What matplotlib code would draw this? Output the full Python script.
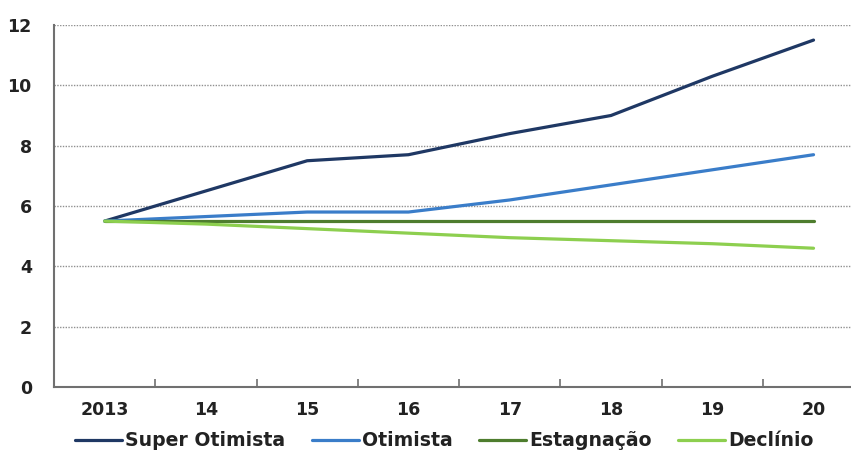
import matplotlib.pyplot as plt
import numpy as np

years = ["2013", "14", "15", "16", "17", "18", "19", "20"]

super_otimista = [5.5, 6.5, 7.5, 7.7, 8.4, 9.0, 10.3, 11.5]
otimista = [5.5, 5.65, 5.8, 5.8, 6.2, 6.7, 7.2, 7.7]
estagnacao = [5.5, 5.5, 5.5, 5.5, 5.5, 5.5, 5.5, 5.5]
declinio = [5.5, 5.4, 5.25, 5.1, 4.95, 4.85, 4.75, 4.6]

series = [
    ("Super Otimista", super_otimista, "#1f3864"),
    ("Otimista", otimista, "#3a7dc9"),
    ("Estagnação", estagnacao, "#4e7d2e"),
    ("Declínio", declinio, "#8dcf4f"),
]

plt.rcParams["font.family"] = "DejaVu Sans"
plt.rcParams["font.weight"] = "bold"

fig = plt.figure(figsize=(8.51, 4.53), dpi=100)
ax = fig.add_axes([54 / 851, 66 / 453, 797 / 851, 362 / 453])

x = np.arange(len(years))
for name, vals, color in series:
    ax.plot(x, vals, color=color, linewidth=2.3, label=name, solid_capstyle="round")

ax.set_ylim(0, 12)
ax.set_xlim(-0.5, 7.37)
ax.set_yticks(np.arange(0, 13, 2))
ax.set_xticks(x)
ax.set_xticklabels(years)
ax.set_xticks(np.arange(0.5, 7, 1), minor=True)

ax.yaxis.grid(True, linestyle=(0, (1, 1)), color="#909090", linewidth=1.0)
ax.set_axisbelow(True)

for side in ["top", "right"]:
    ax.spines[side].set_visible(False)
for side in ["left", "bottom"]:
    ax.spines[side].set_color("#707070")
    ax.spines[side].set_linewidth(1.5)

ax.tick_params(axis="y", length=0, pad=16, labelsize=12.5, labelcolor="#222222")
ax.tick_params(axis="x", which="major", length=0, pad=10, labelsize=12.5, labelcolor="#222222")
ax.tick_params(axis="x", which="minor", length=6, direction="in", color="#707070", width=1.2)

fig.legend(
    loc="center",
    bbox_to_anchor=(0.522, 0.027),
    ncol=4,
    frameon=False,
    fontsize=13.6,
    handlelength=2.5,
    handletextpad=0.15,
    columnspacing=1.4,
    labelcolor="#222222",
)

fig.savefig("out.png", dpi=100)
